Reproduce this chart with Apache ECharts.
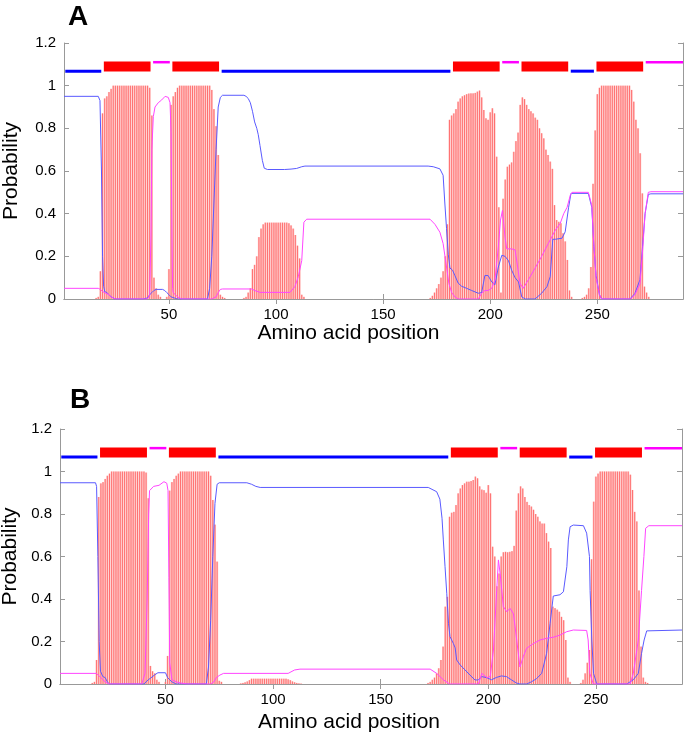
<!DOCTYPE html>
<html><head><meta charset="utf-8">
<script src="https://cdn.jsdelivr.net/npm/echarts@6/dist/echarts.min.js"></script>
<style>html,body{margin:0;padding:0;background:#fff}#c{width:685px;height:737px}</style>
</head><body><div id="c"></div>
<script>
// ---------- DATA ----------
const xTickValues = [50, 100, 150, 200, 250];
const panelLabels = ['A', 'B'];

// topology: [start, end, code]  code 0 = inside, 1 = TM helix, 2 = outside
const topoA = [[1,18,0],[19,41,1],[42,50,2],[51,73,1],[74,181,0],[182,204,1],[205,213,2],[214,236,1],[237,248,0],[249,271,1],[272,290,2]];
const topoB = [[1,18,0],[19,41,1],[42,50,2],[51,73,1],[74,181,0],[182,204,1],[205,213,2],[214,236,1],[237,248,0],[249,271,1],[272,290,2]];

// TM helix probability (one value per residue, runs starting at the residue in the name)
const tmA_16 = [0.005,0.01,0.13,0.87,0.94,0.95,0.97,0.985,
  1,1,1,1,1,1,1,1,1,1,1,1,1,1,1,1,1,
  0.99,0.86,0.10,0.05,0.02,0.01,0,0,0.01,0.14,0.91,0.95,0.97,0.99,
  1,1,1,1,1,1,1,1,1,1,1,1,1,1,1,
  0.98,0.89,0.81,0.675,0.02,0.01,0.005];
const tmA_85 = [0.005,0.01,0.03,0.05,0.14,0.16,0.2,0.29,0.33,0.35,
  0.358,0.358,0.358,0.358,0.358,0.358,0.358,0.358,0.358,0.358,0.358,
  0.355,0.345,0.33,0.30,0.25,0.19,0.02,0.01];
const tmA_172 = [0.005,0.015,0.03,0.05,0.07,0.1,0.13,0.2,0.35,0.84,0.86,0.87,0.89,0.925,0.94,0.95,0.955,0.96,0.963,0.964,0.964,0.966,0.972,0.977,0.945,0.886,0.847,0.84,0.875,0.894,0.87,0.667,0.43,0.03,0.47,0.56,0.62,0.63,0.64,0.69,0.74,0.78,0.91,0.945,0.937,0.91,0.89,0.88,0.87,0.85,0.84,0.8,0.777,0.753,0.7,0.675,0.644,0.61,0.44,0.37,0.362,0.355,0.308,0.27,0.183,0.04,0.01];
const tmA_243 = [0.005,0.01,0.02,0.05,0.15,0.54,0.79,0.96,0.99,
  1,1,1,1,1,1,1,1,1,1,1,1,1,1,
  0.98,0.925,0.84,0.8,0.683,0.495,0.058,0.03,0.01];

const tmB_16 = [0.005,0.01,0.113,0.88,0.944,0.95,0.965,0.98,0.99,
  1,1,1,1,1,1,1,1,1,1,1,1,1,1,1,1,
  0.995,0.874,0.085,0.06,0.05,0.02,0.01,0,0,0.01,0.132,0.91,0.95,0.965,0.98,0.99,
  1,1,1,1,1,1,1,1,1,1,1,1,1,1,
  0.98,0.866,0.75,0.576,0.015,0.01];
const tmB_85 = [0.003,0.005,0.008,0.012,0.018,
  0.025,0.025,0.025,0.025,0.025,0.025,0.025,0.025,0.025,0.025,0.025,0.025,0.025,0.025,0.025,0.025,0.025,
  0.022,0.018,0.012,0.008,0.005,0.003,0.002];
const tmB_172 = [0.005,0.01,0.02,0.03,0.05,0.074,0.113,0.176,0.364,0.41,0.787,0.806,0.81,0.842,0.897,0.92,0.936,0.944,0.952,0.952,0.955,0.96,0.976,0.968,0.93,0.915,0.912,0.9,0.936,0.897,0.646,0.6,0.46,0.52,0.6,0.62,0.622,0.62,0.622,0.625,0.65,0.816,0.897,0.93,0.92,0.88,0.857,0.842,0.835,0.82,0.8,0.787,0.765,0.755,0.755,0.71,0.67,0.64,0.364,0.357,0.35,0.34,0.316,0.3,0.207,0.03,0.01];
const tmB_243 = [0.005,0.02,0.05,0.1,0.16,0.587,0.858,0.976,0.99,
  1,1,1,1,1,1,1,1,1,1,1,1,1,1,
  0.985,0.913,0.81,0.765,0.44,0.176,0.03,0.01,0.005];

// inside / outside probability curves: [residue, probability]
const insideA = [[1,0.95],[17,0.95],[17.8,0.93],[18.5,0.6],[19,0.2],[19.5,0.06],[20,0.035],[21,0.03],[22,0.02],[23,0.01],[25,0],[38,0],[40,0.005],[41,0.02],[42,0.03],[43,0.04],[44,0.045],[47,0.045],[48,0.04],[49,0.03],[50,0.02],[51,0.01],[53,0.003],[54,0],[68,0],[69,0.05],[70,0.2],[71,0.45],[72,0.7],[73,0.9],[74,0.945],[75,0.955],[85,0.955],[86,0.95],[87,0.94],[88,0.92],[89,0.88],[90,0.83],[91,0.8],[91.7,0.77],[92.5,0.72],[93.6,0.65],[94.5,0.613],[96,0.607],[104,0.607],[107,0.609],[109.6,0.612],[112,0.62],[113.5,0.623],[171,0.623],[173.4,0.62],[176.5,0.61],[178,0.58],[178.8,0.45],[179.6,0.33],[180.4,0.21],[181.2,0.145],[182.4,0.135],[183.5,0.11],[185,0.075],[186.6,0.06],[189,0.05],[191.3,0.04],[194.4,0.027],[196,0.03],[197.5,0.11],[199,0.11],[200.7,0.08],[202.2,0.067],[203.8,0.15],[205.4,0.205],[206.9,0.2],[208.5,0.18],[210,0.135],[211.6,0.1],[213.2,0.08],[214.7,0.01],[216.3,0],[220.9,0],[224,0.027],[226.5,0.058],[228,0.105],[229.2,0.28],[230.4,0.28],[233.5,0.285],[235,0.315],[236.6,0.43],[237.7,0.495],[245.8,0.495],[247.4,0.43],[248.4,0.245],[249.4,0.11],[251,0.02],[252,0],[265.2,0],[267.5,0.025],[269.9,0.09],[271.1,0.245],[272.3,0.4],[273.8,0.49],[275,0.493],[290,0.493]];
const outsideA = [[1,0.05],[17,0.05],[18,0.045],[19,0.035],[20,0.03],[21,0.025],[22,0.02],[23,0.01],[25,0],[40,0],[41,0.02],[41.6,0.3],[42,0.7],[42.7,0.855],[43.5,0.9],[45,0.92],[46.6,0.933],[48.2,0.95],[49.7,0.945],[50.5,0.92],[51,0.78],[51.4,0.3],[51.7,0.05],[52,0.03],[53,0.02],[54,0.01],[56,0],[70,0],[72,0.01],[73,0.03],[74,0.045],[75,0.047],[88.6,0.047],[90,0.04],[92.5,0.031],[106.5,0.031],[108.8,0.058],[110.4,0.105],[112,0.18],[113,0.36],[114.3,0.374],[171.9,0.374],[174.2,0.35],[176.5,0.313],[178,0.26],[179.6,0.15],[180.7,0.073],[182,0.03],[183.5,0.01],[185,0],[194.4,0],[196,0.027],[197.5,0.04],[199,0.04],[200.7,0.05],[202.2,0.09],[203.8,0.245],[204.8,0.37],[205.7,0.415],[206.9,0.29],[207.7,0.235],[210,0.235],[211.6,0.23],[212.8,0.15],[213.9,0.073],[215.4,0.05],[217.8,0.09],[220.9,0.144],[224,0.2],[227.1,0.26],[230.4,0.323],[232.7,0.355],[234.3,0.4],[235.9,0.43],[237.4,0.487],[238.2,0.5],[245.8,0.5],[247.4,0.44],[248.4,0.25],[249.4,0.1],[251,0.02],[252,0],[265.5,0],[267.5,0.02],[269.9,0.07],[271.1,0.22],[272.3,0.4],[273.8,0.5],[275,0.503],[290,0.503]];
const insideB = [[1,0.947],[17.5,0.947],[18,0.93],[18.6,0.6],[19.2,0.2],[19.8,0.06],[20.9,0.035],[22,0.03],[23,0.01],[24,0],[40,0],[41,0.01],[42,0.02],[43,0.027],[45,0.043],[46.5,0.053],[50,0.053],[51,0.03],[52,0.02],[53,0.01],[55,0],[69,0],[70,0.08],[71,0.3],[72,0.6],[73,0.85],[74,0.94],[75,0.947],[87.8,0.947],[90,0.94],[92,0.93],[94,0.925],[172.1,0.925],[176,0.905],[177.5,0.87],[178.5,0.78],[179.1,0.678],[179.9,0.552],[180.7,0.427],[181.5,0.286],[182.2,0.223],[183.8,0.19],[184.6,0.17],[185.3,0.113],[186.9,0.09],[189.2,0.066],[191.5,0.042],[193.8,0.019],[195.4,0.019],[196.9,0.035],[199.2,0.03],[201.5,0.02],[203.8,0.031],[206.1,0.038],[208.4,0.035],[210.7,0.02],[213,0.005],[214.7,0],[217.8,0],[220,0.01],[222.4,0.025],[224.8,0.05],[227.1,0.144],[228.7,0.285],[230.2,0.414],[233.3,0.42],[234.9,0.434],[236.5,0.552],[237.2,0.678],[238,0.74],[239.5,0.748],[244.2,0.745],[245.7,0.71],[247,0.6],[247.3,0.44],[248.1,0.207],[248.9,0.05],[250.4,0],[264.3,0],[267.4,0.02],[269.7,0.05],[271.2,0.144],[272.4,0.207],[273.6,0.25],[290,0.254]];
const outsideB = [[1,0.05],[17.9,0.05],[19,0.04],[20.9,0.02],[22,0.01],[23.6,0],[39,0],[40.5,0.05],[41.5,0.4],[42.2,0.8],[42.6,0.91],[44.5,0.93],[47,0.935],[49.3,0.952],[50.6,0.945],[51.2,0.91],[51.6,0.5],[52,0.1],[53,0.02],[55,0.01],[57,0.005],[60,0],[71,0],[72.5,0.01],[73.6,0.03],[75.3,0.042],[77,0.05],[107,0.05],[110,0.066],[112.5,0.07],[173,0.07],[176,0.05],[179.1,0.02],[182,0],[195.4,0],[197,0.05],[199.3,0.03],[200.9,0.035],[202.4,0.16],[203.9,0.44],[204.7,0.584],[205.5,0.52],[207,0.364],[208.6,0.34],[210.1,0.356],[211.7,0.33],[213.2,0.207],[214.7,0.08],[216.3,0.13],[217.8,0.168],[220.9,0.19],[224,0.207],[227.1,0.215],[230.2,0.22],[233.3,0.23],[236.4,0.246],[239.5,0.254],[245.7,0.252],[246.4,0.207],[247.2,0.05],[248.8,0],[265.9,0],[267.4,0.05],[269.7,0.207],[271.2,0.44],[272.3,0.6],[273.1,0.733],[274.6,0.745],[290,0.745]];

// ---------- BUILD ----------
function runs(list) {
  const out = [];
  list.forEach(([start, vals]) => vals.forEach((v, i) => { if (v > 0) out.push([start + i, v]); }));
  return out;
}
const tmA = runs([[16, tmA_16], [85, tmA_85], [172, tmA_172], [243, tmA_243]]);
const tmB = runs([[16, tmB_16], [85, tmB_85], [172, tmB_172], [243, tmB_243]]);

const FONT = 'Liberation Sans, Arial, Helvetica, sans-serif';
const AX = '#999';
const grids = [
  { left: 64, top: 43, width: 619, height: 256, containLabel: false, outerBoundsMode: 'none' },
  { left: 60, top: 429, width: 622, height: 255, containLabel: false, outerBoundsMode: 'none' }
];
const namePad = [[0, 50, 0, 0], [0, 44, 0, 0]];
const nameGapX = [21, 28];
const nameGapY = [42, 38];

const xAxis = [], yAxis = [];
grids.forEach((g, i) => {
  xAxis.push({
    type: 'value', gridIndex: i, min: 1, max: 290, position: 'bottom',
    name: 'Amino acid position', nameLocation: 'middle', nameGap: nameGapX[i],
    nameTextStyle: { fontFamily: FONT, fontSize: 21, color: '#000', padding: namePad[i] },
    axisLine: { show: true, lineStyle: { color: AX, width: 1 } },
    axisTick: { show: true, inside: true, length: 5, lineStyle: { color: AX }, customValues: xTickValues },
    axisLabel: { show: true, customValues: xTickValues, fontFamily: FONT, fontSize: 15, color: '#000', margin: 8 },
    splitLine: { show: false }
  });
  xAxis.push({
    type: 'value', gridIndex: i, min: 1, max: 290, position: 'top',
    axisLine: { show: true, lineStyle: { color: AX, width: 1 } },
    axisTick: { show: true, inside: true, length: 5, lineStyle: { color: AX }, customValues: xTickValues },
    axisLabel: { show: false }, splitLine: { show: false }
  });
  yAxis.push({
    type: 'value', gridIndex: i, min: 0, max: 1.2, interval: 0.2, position: 'left',
    name: 'Probability', nameLocation: 'middle', nameGap: nameGapY[i], nameRotate: 90,
    nameTextStyle: { fontFamily: FONT, fontSize: 21, color: '#000' },
    axisLine: { show: true, lineStyle: { color: AX, width: 1 } },
    axisTick: { show: true, inside: true, length: 5, lineStyle: { color: AX } },
    axisLabel: { fontFamily: FONT, fontSize: 15, color: '#000', margin: 8,
      formatter: v => (Math.round(v * 10) / 10).toString() },
    splitLine: { show: false }
  });
  yAxis.push({
    type: 'value', gridIndex: i, min: 0, max: 1.2, interval: 0.2, position: 'right',
    axisLine: { show: true, lineStyle: { color: AX, width: 1 } },
    axisTick: { show: true, inside: true, length: 5, lineStyle: { color: AX } },
    axisLabel: { show: false }, splitLine: { show: false }
  });
});

function renderTM(params, api) {
  const x = api.value(0), v = api.value(1);
  const a = api.coord([x - 0.5, v]), b = api.coord([x + 0.5, 0]);
  const mid = (a[0] + b[0]) / 2;
  return { type: 'group', children: [
    { type: 'rect', shape: { x: a[0], y: a[1], width: b[0] - a[0], height: b[1] - a[1] }, style: { fill: '#ffc6c6' } },
    { type: 'line', shape: { x1: mid, y1: a[1], x2: mid, y2: b[1] }, style: { stroke: '#ff5a5a', lineWidth: 0.8 } }
  ]};
}
function renderTopo(params, api) {
  const s = Math.max(api.value(0) + 0.6, 1), e = Math.min(api.value(1) + 0.4, 290), t = api.value(2);
  if (t === 1) {
    const p0 = api.coord([s, 1.113]), p1 = api.coord([e, 1.066]);
    return { type: 'rect', shape: { x: p0[0], y: p0[1], width: p1[0] - p0[0], height: p1[1] - p0[1] }, style: { fill: '#ff0000' } };
  }
  const y = t === 0 ? 1.068 : 1.11;
  const p0 = api.coord([s, y]), p1 = api.coord([e, y]);
  return { type: 'line', shape: { x1: p0[0], y1: p0[1], x2: p1[0], y2: p1[1] },
    style: { stroke: t === 0 ? '#0000ff' : '#ff00ff', lineWidth: t === 0 ? 3 : 2.5 } };
}

const panels = [
  { tm: tmA, ins: insideA, outs: outsideA, topo: topoA },
  { tm: tmB, ins: insideB, outs: outsideB, topo: topoB }
];
const series = [];
panels.forEach((p, i) => {
  const ax = { xAxisIndex: i * 2, yAxisIndex: i * 2 };
  series.push(Object.assign({ type: 'custom', renderItem: renderTM, data: p.tm, z: 1, silent: true }, ax));
  series.push(Object.assign({ type: 'line', data: p.ins, showSymbol: false, z: 3, silent: true,
    lineStyle: { color: '#5a5aff', width: 1 } }, ax));
  series.push(Object.assign({ type: 'line', data: p.outs, showSymbol: false, z: 3, silent: true,
    lineStyle: { color: '#ff45ff', width: 1 } }, ax));
  series.push(Object.assign({ type: 'custom', renderItem: renderTopo, data: p.topo, z: 4, silent: true }, ax));
});

const chart = echarts.init(document.getElementById('c'), null, { renderer: 'canvas' });
chart.setOption({
  animation: false,
  backgroundColor: '#fff',
  grid: grids,
  xAxis, yAxis, series,
  graphic: [
    { type: 'text', left: 68, top: 3, style: { text: panelLabels[0], font: 'bold 28px ' + FONT, fill: '#000' } },
    { type: 'text', left: 70, top: 386, style: { text: panelLabels[1], font: 'bold 28px ' + FONT, fill: '#000' } }
  ]
});
</script></body></html>
